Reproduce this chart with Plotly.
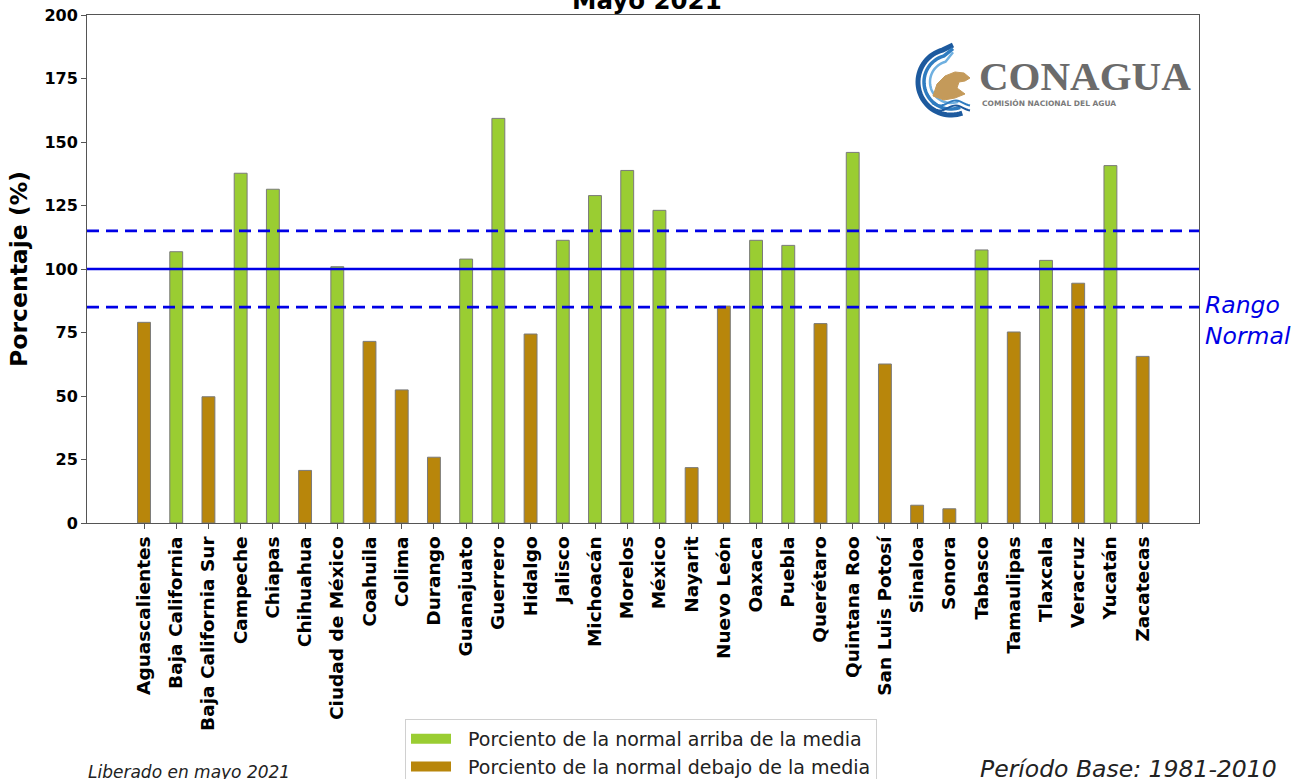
import math
import plotly.graph_objects as go

# ---------------- data ----------------
states = ["Aguascalientes", "Baja California", "Baja California Sur", "Campeche", "Chiapas",
          "Chihuahua", "Ciudad de México", "Coahuila", "Colima", "Durango", "Guanajuato",
          "Guerrero", "Hidalgo", "Jalisco", "Michoacán", "Morelos", "México", "Nayarit",
          "Nuevo León", "Oaxaca", "Puebla", "Querétaro", "Quintana Roo", "San Luis Potosí",
          "Sinaloa", "Sonora", "Tabasco", "Tamaulipas", "Tlaxcala", "Veracruz", "Yucatán",
          "Zacatecas"]
percent = [79.0, 106.8, 49.7, 137.7, 131.4,
           20.7, 100.9, 71.5, 52.4, 25.9, 103.9,
           159.3, 74.4, 111.3, 128.9, 138.8, 123.1, 21.8,
           85.4, 111.3, 109.3, 78.5, 145.9, 62.6,
           7.0, 5.6, 107.5, 75.2, 103.4, 94.4, 140.7,
           65.6]
media = 100
rango_sup = 115
rango_inf = 85
yticks = [0, 25, 50, 75, 100, 125, 150, 175, 200]
label_above = "Porciento de la normal arriba de la media"
label_below = "Porciento de la normal debajo de la media"

above_x = [s for s, v in zip(states, percent) if v >= media]
above_y = [v for v in percent if v >= media]
below_x = [s for s, v in zip(states, percent) if v < media]
below_y = [v for v in percent if v < media]

GREEN = "#9ACD32"
BROWN = "#B8860B"
BLUE = "#0000E6"
FONT = "DejaVu Sans"
NB = "\u00a0\u00a0"

fig = go.Figure()
fig.add_trace(go.Bar(x=above_x, y=above_y, name=label_above, showlegend=False,
                     marker=dict(color=GREEN, line=dict(color="#7a7a7a", width=1)), width=0.4))
fig.add_trace(go.Bar(x=below_x, y=below_y, name=label_below, showlegend=False,
                     marker=dict(color=BROWN, line=dict(color="#7a7a7a", width=1)), width=0.4))
# legend entries drawn as wide colour patches
fig.add_trace(go.Scatter(x=[None], y=[None], mode="lines", name=NB + label_above,
                         line=dict(color=GREEN, width=15)))
fig.add_trace(go.Scatter(x=[None], y=[None], mode="lines", name=NB + label_below,
                         line=dict(color=BROWN, width=15)))

# reference lines
fig.add_hline(y=media, line=dict(color=BLUE, width=2.7))
fig.add_hline(y=rango_sup, line=dict(color=BLUE, width=2.7, dash="12px,7px"))
fig.add_hline(y=rango_inf, line=dict(color=BLUE, width=2.7, dash="12px,7px"))

# ---------- helpers for decorations (pixel -> paper) ----------
L, R, T, B = 87, 1199, 15, 523


def P(x, y):
    return ((x - L) / (R - L), (B - y) / (B - T))


def path_from(points, close=False):
    s = ""
    for i, (x, y) in enumerate(points):
        px, py = P(x, y)
        s += ("M" if i == 0 else "L") + f"{px:.5f},{py:.5f} "
    if close:
        s += "Z"
    return s


def arc(cx, cy, r, a0, a1, n=40):
    pts = []
    for i in range(n + 1):
        a = math.radians(a0 + (a1 - a0) * i / n)
        pts.append((cx + r * math.cos(a), cy - r * math.sin(a)))
    return pts


shapes = []
# swirl of logo
for r, col, w in [(33, "#1d5a9e", 5), (27, "#2f7cc0", 3.5), (21, "#6fb0e0", 2.5)]:
    pts = [(953, 45 + (33 - r) * 0.6)] + arc(951, 82, r, 105, 290)
    shapes.append(dict(type="path", xref="paper", yref="paper",
                       path=path_from(pts), line=dict(color=col, width=w)))
# eagle head
eagle = [(933, 96), (937, 84), (945, 76), (955, 72), (964, 73), (970, 78), (965, 81),
         (959, 82), (957, 88), (965, 94), (955, 98), (944, 100)]
shapes.append(dict(type="path", xref="paper", yref="paper", path=path_from(eagle, True),
                   fillcolor="#c49a5a", line=dict(color="#c49a5a", width=1)))
# waves
for yy, col in [(103, "#2f7cc0"), (108, "#1d5a9e")]:
    pts = [(932 + i, yy + 2.5 * math.sin(i / 5.0)) for i in range(0, 40, 2)]
    shapes.append(dict(type="path", xref="paper", yref="paper",
                       path=path_from(pts), line=dict(color=col, width=2)))
fig.update_layout(shapes=list(fig.layout.shapes) + shapes)

annotations = []
cx, cy = P(977, 76)
annotations.append(dict(text="<b>CONAGUA</b>", x=cx, y=cy, xref="paper", yref="paper",
                        xanchor="left", yanchor="middle", showarrow=False,
                        font=dict(family="Liberation Serif", size=41, color="#6b6b6b")))
cx, cy = P(980, 103)
annotations.append(dict(text="<b>COMISIÓN NACIONAL DEL AGUA</b>", x=cx, y=cy, xref="paper",
                        yref="paper", xanchor="left", yanchor="middle", showarrow=False,
                        font=dict(family=FONT, size=7.5, color="#7a7a7a")))
# title (cut at top like reference)
cx, cy = P(647, 0)
annotations.append(dict(text="<b>Mayo 2021</b>", x=cx, y=cy, xref="paper", yref="paper",
                        xanchor="center", yanchor="middle", showarrow=False,
                        font=dict(family=FONT, size=24.5, color="black")))
# Rango normal
cx, cy = P(1203, 320)
annotations.append(dict(text="<i>Rango<br>Normal</i>", x=cx, y=cy, xref="paper", yref="paper",
                        xanchor="left", yanchor="middle", align="left", showarrow=False,
                        font=dict(family=FONT, size=23.5, color=BLUE)))
cx, cy = P(86, 772)
annotations.append(dict(text="<i>Liberado en mayo 2021</i>", x=cx, y=cy, xref="paper",
                        yref="paper", xanchor="left", yanchor="middle", showarrow=False,
                        font=dict(family=FONT, size=17, color="#222")))
cx, cy = P(1279, 769)
annotations.append(dict(text="<i>Período Base: 1981-2010</i>", x=cx, y=cy, xref="paper",
                        yref="paper", xanchor="right", yanchor="middle", showarrow=False,
                        font=dict(family=FONT, size=23.5, color="#222")))

lx, ly = P(405, 719)
fig.update_layout(
    width=1293, height=779,
    margin=dict(l=L, r=1293 - R, t=T, b=779 - B, autoexpand=False),
    paper_bgcolor="white", plot_bgcolor="white",
    barmode="overlay",
    font=dict(family=FONT, color="black"),
    showlegend=True,
    legend=dict(x=lx, y=ly, xanchor="left", yanchor="top", xref="paper", yref="paper",
                bgcolor="white", bordercolor="#d0d0d0", borderwidth=1, itemwidth=40,
                tracegroupgap=0,
                font=dict(family=FONT, size=19, color="#222"), traceorder="normal"),
    annotations=annotations,
    xaxis=dict(categoryorder="array", categoryarray=states, range=[-1.77, 32.75],
               tickangle=-90, tickfont=dict(family=FONT, size=18.5, weight="bold"),
               ticks="outside", ticklen=5, tickcolor="#555", showgrid=False,
               showline=True, linecolor="#555", linewidth=1, mirror=True),
    yaxis=dict(range=[0, 200], tickvals=yticks, ticks="outside", ticklen=5, tickcolor="#555",
               tickfont=dict(family=FONT, size=16, weight="bold"), showgrid=False,
               zeroline=False, showline=True, linecolor="#555", linewidth=1, mirror=True,
               title=dict(text="Porcentaje (%)", standoff=10,
                          font=dict(family=FONT, size=23.5, weight="bold"))),
)

fig.write_html("out.html", config={"displayModeBar": False},
               post_script="document.body.style.margin='0';")
